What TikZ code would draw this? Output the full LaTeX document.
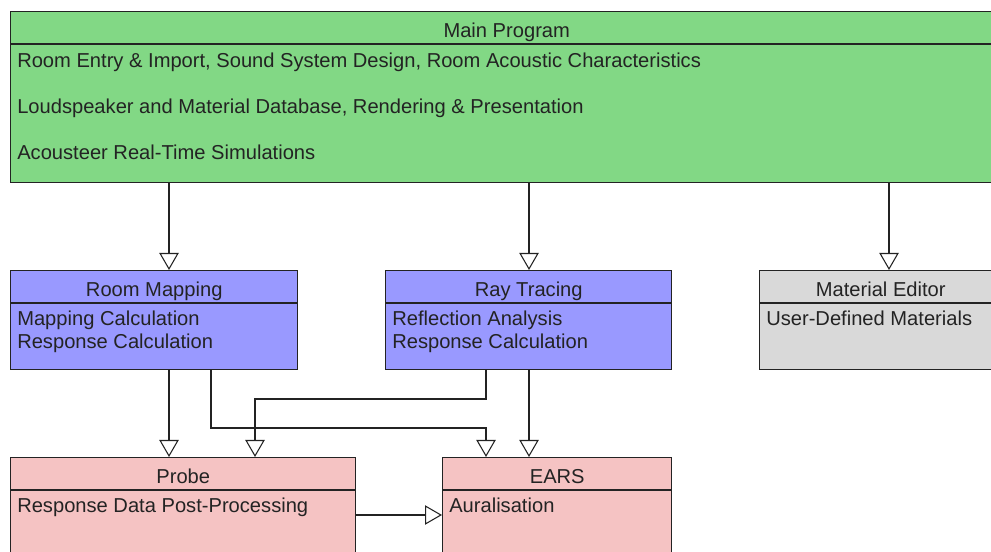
\documentclass[tikz,border=0pt]{standalone}
\usepackage{fontspec}
\setmainfont{Liberation Sans}
\usetikzlibrary{arrows.meta,calc,positioning}
\definecolor{mainfill}{RGB}{130,216,133}
\definecolor{calcfill}{RGB}{153,153,255}
\definecolor{editfill}{RGB}{217,217,217}
\definecolor{postfill}{RGB}{245,195,195}
\definecolor{ink}{RGB}{35,35,35}

\begin{document}
\begin{tikzpicture}[x=0.75pt,y=0.75pt,font=\fontsize{15.1}{17}\selectfont,
    classbox/.style={draw=ink,line width=1.1pt,inner sep=0pt,anchor=north west},
    divider/.style={draw=ink,line width=1.1pt},
    title/.style={inner sep=0pt,text=ink,text height=11pt,text depth=4pt},
    entry/.style={title,anchor=west},
    uses/.style={draw=ink,line width=0.8pt,-{Triangle[length=12.75pt,width=14.5pt,fill=white]}}]
  \clip (0,0) rectangle (991,552);
  % classes
  \node[classbox,fill=mainfill,minimum width=744pt,minimum height=128.25pt] (main) at (10,541) {};
  \node[classbox,fill=calcfill,minimum width=215.25pt,minimum height=74.25pt] (rm) at (10,282) {};
  \node[classbox,fill=calcfill,minimum width=214.5pt,minimum height=74.25pt] (rt) at (385,282) {};
  \node[classbox,fill=editfill,minimum width=181.5pt,minimum height=74.25pt] (me) at (759,282) {};
  \node[classbox,fill=postfill,minimum width=258.75pt,minimum height=90pt] (probe) at (10,95) {};
  \node[classbox,fill=postfill,minimum width=171.75pt,minimum height=90pt] (ears) at (442,95) {};
  \foreach \b in {main,rm,rt,me,probe,ears}
    \draw[divider] ($(\b.north west)+(0,-33)$) -- ($(\b.north east)+(0,-33)$);

  \node[title] (main-t) at ($(main.north)+(0,-21.5)$) {Main Program};
  \node[title] (rm-t) at ($(rm.north)+(0,-21.5)$) {Room Mapping};
  \node[title] (rt-t) at ($(rt.north)+(0,-21.5)$) {Ray Tracing};
  \node[title] (me-t) at ($(me.north)+(0,-21.5)$) {Material Editor};
  \node[title] (probe-t) at ($(probe.north)+(0,-21.5)$) {Probe};
  \node[title] (ears-t) at ($(ears.north)+(0,-21.5)$) {EARS};

  \foreach \t [count=\i] in {{Room Entry \& Import, Sound System Design, Room Acoustic Characteristics},
      {Loudspeaker and Material Database, Rendering \& Presentation},
      {Acousteer Real-Time Simulations}}
    \node[entry] (main-\i) at ($(main.north west)+(7,-6-46*\i)$) {\t};
  \node[entry] (rm-1) at ($(rm.north west)+(7,-51)$) {Mapping Calculation};
  \node[entry] (rm-2) at ($(rm.north west)+(7,-73.5)$) {Response Calculation};
  \node[entry] (rt-1) at ($(rt.north west)+(7,-51)$) {Reflection Analysis};
  \node[entry] (rt-2) at ($(rt.north west)+(7,-73.5)$) {Response Calculation};
  \node[entry] (me-1) at ($(me.north west)+(7,-51)$) {User-Defined Materials};
  \node[entry] (probe-1) at ($(probe.north west)+(7,-51)$) {Response Data Post-Processing};
  \node[entry] (ears-1) at ($(ears.north west)+(7,-51)$) {Auralisation};

  % dependencies
  \coordinate (rm-in) at ($(rm.north west)+(159,0)$);
  \coordinate (rt-in) at ($(rt.north west)+(144,0)$);
  \coordinate (me-in) at ($(me.north west)+(130,0)$);
  \coordinate (rm-out) at ($(rm.south west)+(201,0)$);
  \coordinate (rt-out) at ($(rt.south west)+(101,0)$);
  \coordinate (probe-in) at ($(probe.north west)+(245,0)$);
  \coordinate (ears-in) at ($(ears.north west)+(44,0)$);
  \coordinate (probe-out) at ($(probe.north east)+(0,-58)$);
  \draw[uses] (rm-in |- main.south) -- (rm-in);
  \draw[uses] (rt-in |- main.south) -- (rt-in);
  \draw[uses] (me-in |- main.south) -- (me-in);
  \draw[uses] (rm-in |- rm.south) -- (rm-in |- probe.north);
  \draw[uses] (rt-in |- rt.south) -- (rt-in |- ears.north);
  \draw[uses] (rm-out) |- ($(ears-in)+(0,29)$) -- (ears-in);
  \draw[uses] (rt-out) |- ($(probe-in)+(0,58)$) -- (probe-in);
  \draw[uses] (probe-out) -- (probe-out -| ears.west);
\end{tikzpicture}
\end{document}
